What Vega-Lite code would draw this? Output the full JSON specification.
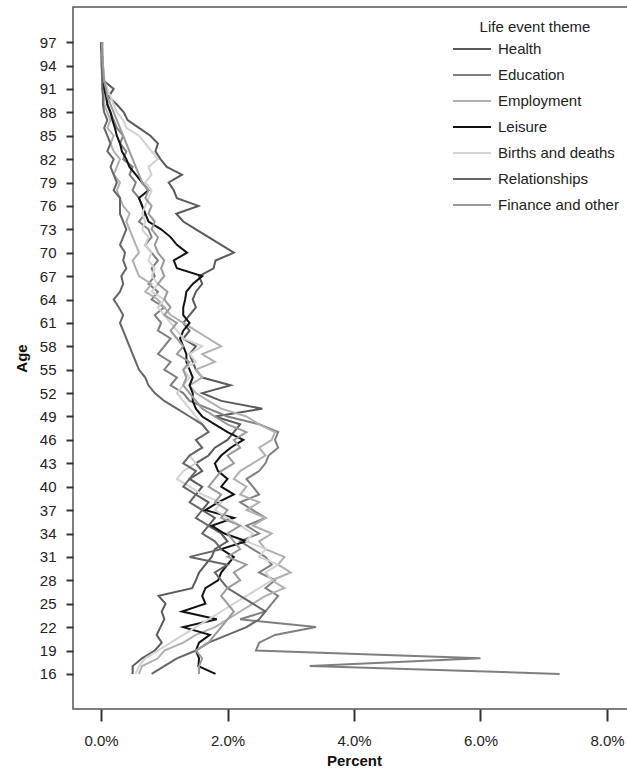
{
"$schema":"https://vega.github.io/schema/vega-lite/v6.json",
"width":556,"height":702,
"autosize":{"type":"none"},
"padding":{"left":73,"top":7,"right":0,"bottom":66},
"background":"white",
"config":{"view":{"stroke":"#555","strokeWidth":1.5},"font":"Liberation Sans"},
"data":{"values":[
{"age":16,"Health":0.5,"Education":7.25,"Employment":0.6,"Leisure":1.81,"Births and deaths":0.55,"Relationships":0.8,"Finance and other":1.55},
{"age":17,"Health":0.5,"Education":3.3,"Employment":0.65,"Leisure":1.54,"Births and deaths":0.6,"Relationships":1.0,"Finance and other":1.55},
{"age":18,"Health":0.65,"Education":6.0,"Employment":0.9,"Leisure":1.55,"Births and deaths":0.7,"Relationships":1.2,"Finance and other":1.6},
{"age":19,"Health":0.85,"Education":2.45,"Employment":1.0,"Leisure":1.5,"Births and deaths":0.9,"Relationships":1.5,"Finance and other":1.5},
{"age":20,"Health":0.96,"Education":2.5,"Employment":1.3,"Leisure":1.55,"Births and deaths":1.1,"Relationships":1.7,"Finance and other":1.7},
{"age":21,"Health":0.88,"Education":2.75,"Employment":1.5,"Leisure":1.72,"Births and deaths":1.3,"Relationships":2.0,"Finance and other":1.8},
{"age":22,"Health":0.94,"Education":3.4,"Employment":1.8,"Leisure":1.3,"Births and deaths":1.5,"Relationships":2.3,"Finance and other":1.9},
{"age":23,"Health":1.0,"Education":2.2,"Employment":2.0,"Leisure":1.83,"Births and deaths":1.7,"Relationships":2.5,"Finance and other":2.0},
{"age":24,"Health":0.96,"Education":2.6,"Employment":2.2,"Leisure":1.28,"Births and deaths":1.9,"Relationships":2.6,"Finance and other":2.1},
{"age":25,"Health":1.02,"Education":2.7,"Employment":2.4,"Leisure":1.65,"Births and deaths":2.1,"Relationships":2.4,"Finance and other":2.0},
{"age":26,"Health":0.91,"Education":2.8,"Employment":2.6,"Leisure":1.6,"Births and deaths":2.3,"Relationships":2.2,"Finance and other":1.9},
{"age":27,"Health":1.44,"Education":2.6,"Employment":2.9,"Leisure":1.65,"Births and deaths":2.5,"Relationships":2.0,"Finance and other":2.0},
{"age":28,"Health":1.5,"Education":2.75,"Employment":2.7,"Leisure":1.85,"Births and deaths":2.7,"Relationships":1.9,"Finance and other":2.2},
{"age":29,"Health":1.55,"Education":2.5,"Employment":3.0,"Leisure":1.9,"Births and deaths":2.6,"Relationships":1.8,"Finance and other":2.1},
{"age":30,"Health":1.65,"Education":2.7,"Employment":2.8,"Leisure":2.0,"Births and deaths":2.8,"Relationships":2.0,"Finance and other":2.3},
{"age":31,"Health":1.75,"Education":2.6,"Employment":2.9,"Leisure":2.1,"Births and deaths":2.5,"Relationships":1.4,"Finance and other":2.0},
{"age":32,"Health":1.8,"Education":2.4,"Employment":2.6,"Leisure":1.9,"Births and deaths":2.6,"Relationships":1.9,"Finance and other":2.2},
{"age":33,"Health":2.0,"Education":2.2,"Employment":2.5,"Leisure":2.3,"Births and deaths":2.3,"Relationships":1.8,"Finance and other":2.1},
{"age":34,"Health":1.9,"Education":2.5,"Employment":2.7,"Leisure":1.95,"Births and deaths":2.4,"Relationships":1.6,"Finance and other":2.0},
{"age":35,"Health":1.7,"Education":2.3,"Employment":2.4,"Leisure":1.75,"Births and deaths":2.2,"Relationships":1.7,"Finance and other":2.2},
{"age":36,"Health":1.8,"Education":2.6,"Employment":2.6,"Leisure":2.1,"Births and deaths":2.0,"Relationships":1.5,"Finance and other":1.9},
{"age":37,"Health":1.6,"Education":2.4,"Employment":2.3,"Leisure":1.65,"Births and deaths":1.8,"Relationships":1.6,"Finance and other":2.0},
{"age":38,"Health":1.7,"Education":2.2,"Employment":2.5,"Leisure":1.85,"Births and deaths":1.9,"Relationships":1.4,"Finance and other":1.8},
{"age":39,"Health":1.5,"Education":2.5,"Employment":2.2,"Leisure":2.1,"Births and deaths":1.6,"Relationships":1.5,"Finance and other":1.9},
{"age":40,"Health":1.6,"Education":2.4,"Employment":2.3,"Leisure":1.9,"Births and deaths":1.4,"Relationships":1.3,"Finance and other":1.7},
{"age":41,"Health":1.4,"Education":2.3,"Employment":2.1,"Leisure":2.0,"Births and deaths":1.2,"Relationships":1.4,"Finance and other":1.8},
{"age":42,"Health":1.6,"Education":2.5,"Employment":2.2,"Leisure":1.85,"Births and deaths":1.3,"Relationships":1.5,"Finance and other":1.9},
{"age":43,"Health":1.5,"Education":2.6,"Employment":2.4,"Leisure":1.8,"Births and deaths":1.5,"Relationships":1.3,"Finance and other":2.1},
{"age":44,"Health":1.7,"Education":2.65,"Employment":2.6,"Leisure":1.9,"Births and deaths":1.4,"Relationships":1.4,"Finance and other":2.0},
{"age":45,"Health":1.8,"Education":2.8,"Employment":2.5,"Leisure":2.05,"Births and deaths":1.6,"Relationships":1.6,"Finance and other":2.2},
{"age":46,"Health":2.0,"Education":2.75,"Employment":2.7,"Leisure":2.25,"Births and deaths":1.5,"Relationships":1.5,"Finance and other":2.1},
{"age":47,"Health":2.1,"Education":2.8,"Employment":2.75,"Leisure":2.0,"Births and deaths":1.7,"Relationships":1.7,"Finance and other":2.3},
{"age":48,"Health":2.2,"Education":2.5,"Employment":2.5,"Leisure":1.8,"Births and deaths":1.6,"Relationships":1.6,"Finance and other":2.0},
{"age":49,"Health":1.8,"Education":2.0,"Employment":2.3,"Leisure":1.6,"Births and deaths":1.5,"Relationships":1.4,"Finance and other":1.8},
{"age":50,"Health":2.55,"Education":1.7,"Employment":1.9,"Leisure":1.5,"Births and deaths":1.4,"Relationships":1.2,"Finance and other":1.6},
{"age":51,"Health":1.9,"Education":1.4,"Employment":1.7,"Leisure":1.45,"Births and deaths":1.3,"Relationships":1.0,"Finance and other":1.5},
{"age":52,"Health":1.6,"Education":1.3,"Employment":1.5,"Leisure":1.45,"Births and deaths":1.2,"Relationships":0.85,"Finance and other":1.4},
{"age":53,"Health":2.05,"Education":1.1,"Employment":1.4,"Leisure":1.4,"Births and deaths":1.3,"Relationships":0.75,"Finance and other":1.3},
{"age":54,"Health":1.6,"Education":1.2,"Employment":1.6,"Leisure":1.45,"Births and deaths":1.4,"Relationships":0.7,"Finance and other":1.35},
{"age":55,"Health":1.5,"Education":1.0,"Employment":1.5,"Leisure":1.4,"Births and deaths":1.3,"Relationships":0.6,"Finance and other":1.3},
{"age":56,"Health":1.45,"Education":1.1,"Employment":1.8,"Leisure":1.35,"Births and deaths":1.5,"Relationships":0.55,"Finance and other":1.4},
{"age":57,"Health":1.4,"Education":0.9,"Employment":1.6,"Leisure":1.35,"Births and deaths":1.4,"Relationships":0.5,"Finance and other":1.2},
{"age":58,"Health":1.5,"Education":1.0,"Employment":1.9,"Leisure":1.3,"Births and deaths":1.6,"Relationships":0.45,"Finance and other":1.3},
{"age":59,"Health":1.3,"Education":1.1,"Employment":1.7,"Leisure":1.25,"Births and deaths":1.3,"Relationships":0.4,"Finance and other":1.2},
{"age":60,"Health":1.4,"Education":0.9,"Employment":1.5,"Leisure":1.3,"Births and deaths":1.2,"Relationships":0.35,"Finance and other":1.1},
{"age":61,"Health":1.3,"Education":0.95,"Employment":1.3,"Leisure":1.4,"Births and deaths":1.1,"Relationships":0.3,"Finance and other":1.2},
{"age":62,"Health":1.4,"Education":0.85,"Employment":1.1,"Leisure":1.3,"Births and deaths":1.0,"Relationships":0.35,"Finance and other":1.0},
{"age":63,"Health":1.5,"Education":1.0,"Employment":1.0,"Leisure":1.3,"Births and deaths":0.9,"Relationships":0.28,"Finance and other":1.1},
{"age":64,"Health":1.45,"Education":0.8,"Employment":0.9,"Leisure":1.33,"Births and deaths":1.0,"Relationships":0.2,"Finance and other":1.0},
{"age":65,"Health":1.5,"Education":0.9,"Employment":0.7,"Leisure":1.35,"Births and deaths":0.8,"Relationships":0.3,"Finance and other":1.05},
{"age":66,"Health":1.6,"Education":0.75,"Employment":0.8,"Leisure":1.45,"Births and deaths":0.9,"Relationships":0.35,"Finance and other":0.9},
{"age":67,"Health":1.55,"Education":0.85,"Employment":0.6,"Leisure":1.6,"Births and deaths":0.8,"Relationships":0.32,"Finance and other":1.0},
{"age":68,"Health":1.78,"Education":0.8,"Employment":0.55,"Leisure":1.2,"Births and deaths":0.85,"Relationships":0.4,"Finance and other":0.95},
{"age":69,"Health":1.81,"Education":0.9,"Employment":0.5,"Leisure":1.15,"Births and deaths":0.75,"Relationships":0.35,"Finance and other":1.0},
{"age":70,"Health":2.1,"Education":0.8,"Employment":0.6,"Leisure":1.36,"Births and deaths":0.8,"Relationships":0.38,"Finance and other":0.9},
{"age":71,"Health":1.9,"Education":0.7,"Employment":0.55,"Leisure":1.2,"Births and deaths":0.7,"Relationships":0.3,"Finance and other":0.85},
{"age":72,"Health":1.7,"Education":0.8,"Employment":0.5,"Leisure":1.1,"Births and deaths":0.75,"Relationships":0.35,"Finance and other":0.9},
{"age":73,"Health":1.5,"Education":0.75,"Employment":0.45,"Leisure":0.95,"Births and deaths":0.65,"Relationships":0.4,"Finance and other":0.8},
{"age":74,"Health":1.3,"Education":0.6,"Employment":0.4,"Leisure":0.75,"Births and deaths":0.7,"Relationships":0.35,"Finance and other":0.85},
{"age":75,"Health":1.19,"Education":0.7,"Employment":0.45,"Leisure":0.7,"Births and deaths":0.65,"Relationships":0.3,"Finance and other":0.75},
{"age":76,"Health":1.54,"Education":0.65,"Employment":0.35,"Leisure":0.65,"Births and deaths":0.7,"Relationships":0.3,"Finance and other":0.8},
{"age":77,"Health":1.2,"Education":0.6,"Employment":0.3,"Leisure":0.6,"Births and deaths":0.75,"Relationships":0.3,"Finance and other":0.7},
{"age":78,"Health":1.15,"Education":0.5,"Employment":0.25,"Leisure":0.75,"Births and deaths":0.8,"Relationships":0.2,"Finance and other":0.75},
{"age":79,"Health":1.07,"Education":0.55,"Employment":0.3,"Leisure":0.65,"Births and deaths":0.7,"Relationships":0.25,"Finance and other":0.65},
{"age":80,"Health":1.28,"Education":0.45,"Employment":0.2,"Leisure":0.55,"Births and deaths":0.8,"Relationships":0.2,"Finance and other":0.6},
{"age":81,"Health":1.04,"Education":0.5,"Employment":0.25,"Leisure":0.45,"Births and deaths":0.75,"Relationships":0.15,"Finance and other":0.55},
{"age":82,"Health":0.94,"Education":0.35,"Employment":0.3,"Leisure":0.4,"Births and deaths":0.9,"Relationships":0.2,"Finance and other":0.5},
{"age":83,"Health":0.86,"Education":0.4,"Employment":0.2,"Leisure":0.33,"Births and deaths":0.8,"Relationships":0.1,"Finance and other":0.45},
{"age":84,"Health":0.9,"Education":0.3,"Employment":0.15,"Leisure":0.3,"Births and deaths":0.7,"Relationships":0.15,"Finance and other":0.4},
{"age":85,"Health":0.78,"Education":0.35,"Employment":0.2,"Leisure":0.25,"Births and deaths":0.6,"Relationships":0.1,"Finance and other":0.35},
{"age":86,"Health":0.6,"Education":0.25,"Employment":0.1,"Leisure":0.22,"Births and deaths":0.4,"Relationships":0.05,"Finance and other":0.3},
{"age":87,"Health":0.42,"Education":0.2,"Employment":0.15,"Leisure":0.18,"Births and deaths":0.35,"Relationships":0.1,"Finance and other":0.25},
{"age":88,"Health":0.36,"Education":0.15,"Employment":0.1,"Leisure":0.15,"Births and deaths":0.25,"Relationships":0.05,"Finance and other":0.2},
{"age":89,"Health":0.25,"Education":0.1,"Employment":0.05,"Leisure":0.1,"Births and deaths":0.2,"Relationships":0.03,"Finance and other":0.15},
{"age":90,"Health":0.12,"Education":0.1,"Employment":0.05,"Leisure":0.08,"Births and deaths":0.15,"Relationships":0.03,"Finance and other":0.1},
{"age":91,"Health":0.2,"Education":0.05,"Employment":0.02,"Leisure":0.05,"Births and deaths":0.1,"Relationships":0.02,"Finance and other":0.08},
{"age":92,"Health":0.05,"Education":0.05,"Employment":0.02,"Leisure":0.03,"Births and deaths":0.05,"Relationships":0.02,"Finance and other":0.05},
{"age":93,"Health":0.04,"Education":0.03,"Employment":0.01,"Leisure":0.03,"Births and deaths":0.05,"Relationships":0.02,"Finance and other":0.04},
{"age":94,"Health":0.03,"Education":0.02,"Employment":0.01,"Leisure":0.02,"Births and deaths":0.03,"Relationships":0.01,"Finance and other":0.03},
{"age":95,"Health":0.02,"Education":0.02,"Employment":0.0,"Leisure":0.02,"Births and deaths":0.02,"Relationships":0.01,"Finance and other":0.02},
{"age":96,"Health":0.02,"Education":0.01,"Employment":0.0,"Leisure":0.01,"Births and deaths":0.02,"Relationships":0.01,"Finance and other":0.02},
{"age":97,"Health":0.02,"Education":0.0,"Employment":0.0,"Leisure":0.0,"Births and deaths":0.01,"Relationships":0.01,"Finance and other":0.01}
]},
"transform":[{"fold":["Health","Education","Employment","Leisure","Births and deaths","Relationships","Finance and other"],"as":["theme","pct"]}],
"mark":{"type":"line","strokeWidth":2,"clip":true},
"encoding":{
"y":{"field":"age","type":"quantitative","scale":{"domain":[11.5,101.5],"nice":false,"zero":false},
 "axis":{"values":[16,19,22,25,28,31,34,37,40,43,46,49,52,55,58,61,64,67,70,73,76,79,82,85,88,91,94,97],"domain":false,"grid":false,"tickSize":7,"tickWidth":2,"tickColor":"#333","labelFontSize":15,"labelColor":"#222","labelPadding":10,"title":"Age","titleFontSize":15,"titleFontWeight":"bold","titleColor":"#111","titlePadding":10}},
"x":{"field":"pct","type":"quantitative","scale":{"domain":[-0.443,8.348],"nice":false,"zero":false},
 "axis":{"values":[0,2,4,6,8],"labelExpr":"format(datum.value,'.1f')+'%'","domain":false,"grid":false,"tickSize":12,"tickWidth":2,"tickColor":"#333","labelFontSize":15,"labelColor":"#222","labelPadding":12,"labelFlush":false,"title":"Percent","titleFontSize":15,"titleFontWeight":"bold","titleColor":"#111","titlePadding":5,"titleX":281,"titleAlign":"center"}},
"color":{"field":"theme","type":"nominal","scale":{"domain":["Health","Education","Employment","Leisure","Births and deaths","Relationships","Finance and other"],"range":["#5a5a5a","#7f7f7f","#b0b0b0","#111111","#d2d2d2","#666666","#9a9a9a"]},
 "legend":{"orient":"none","legendX":379,"legendY":13,"title":"Life event theme","titleFontSize":15,"titleFontWeight":"normal","titleColor":"#222","titleAnchor":"middle","titlePadding":4,"labelFontSize":15,"labelColor":"#222","labelOffset":6,"symbolType":"stroke","symbolSize":1444,"symbolStrokeWidth":2,"rowPadding":6,"clipHeight":20}},
"order":{"field":"age","type":"quantitative"}
}
}
